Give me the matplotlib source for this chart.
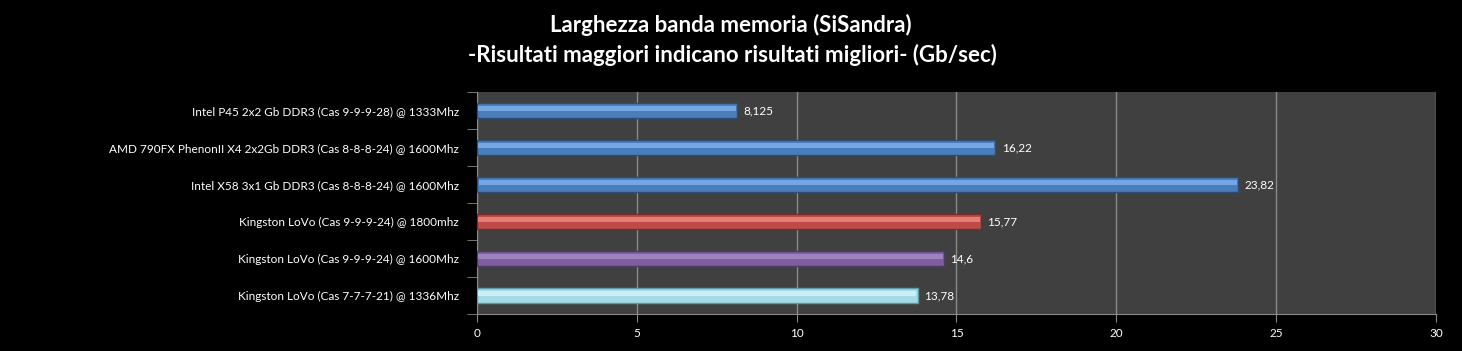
import matplotlib.pyplot as plt
import numpy as np

# data, top to bottom as in the chart
labels = [
    "Intel P45 2x2 Gb DDR3 (Cas 9-9-9-28) @ 1333Mhz",
    "AMD 790FX PhenonII X4 2x2Gb DDR3 (Cas 8-8-8-24) @ 1600Mhz",
    "Intel X58 3x1 Gb DDR3 (Cas 8-8-8-24) @ 1600Mhz",
    "Kingston LoVo (Cas 9-9-9-24) @ 1800mhz",
    "Kingston LoVo (Cas 9-9-9-24) @ 1600Mhz",
    "Kingston LoVo (Cas 7-7-7-21) @ 1336Mhz",
]
values = [8.125, 16.22, 23.82, 15.77, 14.6, 13.78]
value_text = ["8,125", "16,22", "23,82", "15,77", "14,6", "13,78"]
colors = ["#4a7ebb", "#4a7ebb", "#4a7ebb", "#be4b48", "#7d5fa0", "#a5dbe6"]
highlights = ["#7fb3f0", "#7fb3f0", "#7fb3f0", "#f08a86", "#a68cc8", "#d6f4fa"]
edges = ["#2c4d75", "#2c4d75", "#2c4d75", "#772c2a", "#4d3b62", "#5e97a6"]
ticks = [0, 5, 10, 15, 20, 25, 30]

plt.rcParams['font.family'] = ['Lato', 'DejaVu Sans']

fig = plt.figure(figsize=(14.62, 3.51), dpi=100, facecolor="black")
ax = fig.add_axes([477 / 1462, 1 - 314 / 351, (1436 - 477) / 1462, (314 - 92) / 351])
ax.set_facecolor("#404040")

y = np.arange(len(values))[::-1]
h = 0.42
for yi, v, c, hl, ec in zip(y, values, colors, highlights, edges):
    ax.barh(yi, v, height=h, color=c, edgecolor=ec, linewidth=1, zorder=3)
    # bevel highlight
    ax.barh(yi + h * 0.12, v * 0.995, height=h * 0.3, left=v * 0.0025, color=hl, linewidth=0, zorder=4, alpha=0.8)

for yi, v, t in zip(y, values, value_text):
    ax.text(v + 0.2, yi, t, color="white", fontsize=8.5, va="center", ha="left", zorder=5)

ax.set_xlim(0, 30)
ax.set_ylim(-0.5, len(values) - 0.5)
ax.set_xticks(ticks)
ax.set_xticklabels([str(t) for t in ticks], color="white", fontsize=8.5)
ax.set_yticks(y)
ax.set_yticklabels(labels, color="white", fontsize=8.5)
ax.set_yticks(np.arange(-0.5, len(values)), minor=True)
ax.tick_params(axis="y", which="major", length=0, pad=13)
ax.tick_params(axis="y", which="minor", length=7, color="#888888")
ax.tick_params(axis="x", length=6, color="#888888", pad=4)
ax.grid(axis="x", color="#8a8a8a", linewidth=1, zorder=1)
for side in ["top", "right"]:
    ax.spines[side].set_visible(False)
for side in ["left", "bottom"]:
    ax.spines[side].set_color("#888888")

fig.text(731 / 1462, 1 - 25 / 351, "Larghezza banda memoria (SiSandra)", color="white",
         fontsize=16, fontweight="bold", ha="center", va="center")
fig.text(732 / 1462, 1 - 55 / 351, "-Risultati maggiori indicano risultati migliori- (Gb/sec)", color="white",
         fontsize=16, fontweight="bold", ha="center", va="center")

fig.savefig("out.png", dpi=100, facecolor="black")
